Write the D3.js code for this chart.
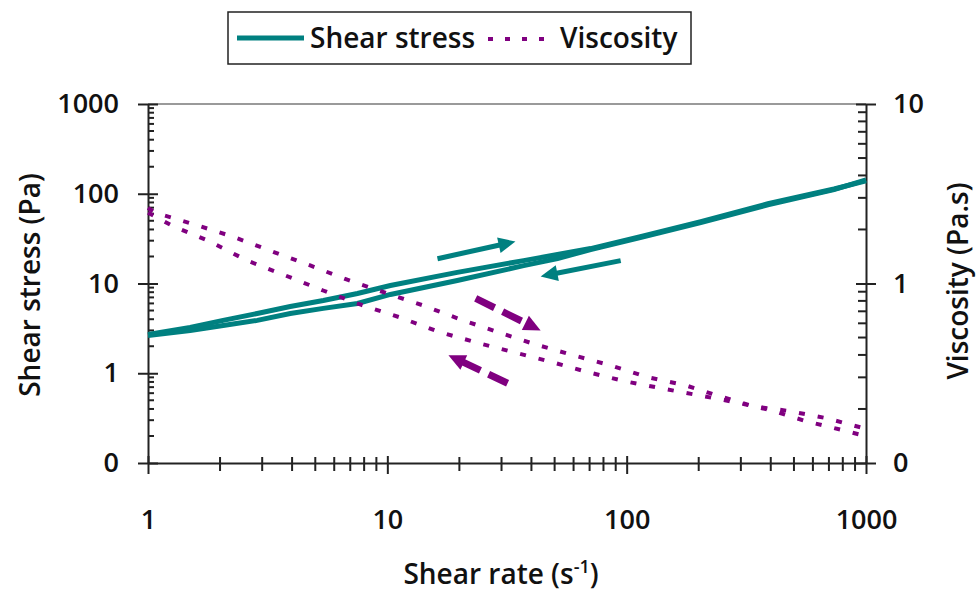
<!DOCTYPE html>
<html>
<head>
<meta charset="utf-8">
<script src="https://cdn.jsdelivr.net/npm/d3@7"></script>
<style>
  body { margin: 0; background: #fff; }
  svg { font-family: "Open Sans", sans-serif; font-weight: 600; }
  .axis text { fill: #111; font-size: 27px; font-family: "Open Sans", sans-serif; font-weight: 600; }
  .axis path, .axis line { stroke: #222; stroke-width: 2; }
</style>
</head>
<body>
<svg width="977" height="594"></svg>
<script>
// shear stress, up and down sweeps (Pa)
let stressRate = [1, 1.5, 2.06, 2.86, 3.93, 5.4, 7.5, 10.3, 19.6, 37.1, 51.4, 70.7, 114, 204, 389, 735, 1000];
let stressUp = [2.71, 3.24, 3.88, 4.64, 5.55, 6.47, 7.74, 9.5, 13.3, 18.0, 21.0, 24.5, 33.3, 48.9, 77.4, 113, 139];
let stressDown = [2.64, 3.0, 3.41, 3.88, 4.64, 5.28, 5.99, 7.55, 10.8, 15.8, 18.9, 23.9, 32.4, 47.6, 75.4, 111, 143];

// viscosity, up and down sweeps (Pa.s)
let viscRateUp = [1, 1.07, 1.57, 2.27, 3.3, 4.76, 6.8, 10.0, 14.1, 20.2, 29.1, 41.5, 60.0, 85.6, 122, 176, 236, 338, 475, 680, 1000];
let viscUp = [2.64, 2.48, 2.13, 1.82, 1.51, 1.26, 1.05, 0.88, 0.755, 0.631, 0.535, 0.458, 0.398, 0.35, 0.301, 0.271, 0.239, 0.207, 0.195, 0.178, 0.155];
let viscRateDown = [1, 1.26, 1.82, 2.6, 3.74, 5.39, 7.7, 11.3, 16.2, 23.4, 33.7, 49.0, 69.3, 97.4, 139, 198, 284, 401, 561, 820, 1000];
let viscDown = [2.48, 2.1, 1.71, 1.34, 1.11, 0.914, 0.764, 0.647, 0.541, 0.47, 0.414, 0.364, 0.32, 0.286, 0.261, 0.239, 0.218, 0.197, 0.171, 0.151, 0.141];

// tick values and labels
let xTicks = [1, 10, 100, 1000];
let xLabels = ["1", "10", "100", "1000"];
let leftTicks = [0.1, 1, 10, 100, 1000];
let leftLabels = ["0", "1", "10", "100", "1000"];
let rightTicks = [0.1, 1, 10];
let rightLabels = ["0", "1", "10"];

// direction arrows, in shear rate / shear stress units
let arrows = [
    { from: [16.2, 18.9], to: [34.3, 29.3], color: "#008080", dashed: false },
    { from: [94.4, 18.0], to: [43.7, 12.0], color: "#008080", dashed: false },
    { from: [23.4, 6.81], to: [43.7, 3.0], color: "#800080", dashed: true },
    { from: [31.8, 0.774], to: [18.0, 1.585], color: "#800080", dashed: true }
];

let teal = "#008080", purple = "#800080";
let svg = d3.select("svg");
let margin = { top: 104, right: 111, bottom: 131, left: 148 },
    width = +svg.attr("width") - margin.left - margin.right,
    height = +svg.attr("height") - margin.top - margin.bottom;

let x = d3.scaleLog().domain([1, 1000]).range([margin.left, margin.left + width]);
let yL = d3.scaleLog().domain([0.1, 1000]).range([margin.top + height, margin.top]);
let yR = d3.scaleLog().domain([0.1, 10]).range([margin.top + height, margin.top]);

let isPow10 = d => Math.abs(Math.log10(d) - Math.round(Math.log10(d))) < 1e-9;

// top border of plot area
svg.append("line")
    .attr("x1", margin.left).attr("x2", margin.left + width)
    .attr("y1", margin.top).attr("y2", margin.top)
    .attr("stroke", "#9a9a9a").attr("stroke-width", 2);

// left axis
let gL = svg.append("g").classed("axis", true)
    .attr("transform", "translate(" + margin.left + ",0)")
    .call(d3.axisLeft(yL).tickValues(leftTicks).tickFormat((d, i) => leftLabels[i])
        .tickSize(10).tickSizeOuter(0).tickPadding(19));
gL.selectAll(".tick line").attr("x1", 10);
gL.selectAll(".minor").data(yL.ticks().filter(d => !isPow10(d))).enter()
    .append("line").classed("minor", true)
    .attr("x1", 0).attr("x2", 6).attr("y1", d => yL(d)).attr("y2", d => yL(d));

// right axis
let gR = svg.append("g").classed("axis", true)
    .attr("transform", "translate(" + (margin.left + width) + ",0)")
    .call(d3.axisRight(yR).tickValues(rightTicks).tickFormat((d, i) => rightLabels[i])
        .tickSize(10).tickSizeOuter(0).tickPadding(17));
gR.selectAll(".tick line").attr("x1", -10);
gR.selectAll(".minor").data(yR.ticks().filter(d => !isPow10(d))).enter()
    .append("line").classed("minor", true)
    .attr("x1", -8).attr("x2", 0).attr("y1", d => yR(d)).attr("y2", d => yR(d));

// bottom axis
let gX = svg.append("g").classed("axis", true)
    .attr("transform", "translate(0," + (margin.top + height) + ")")
    .call(d3.axisBottom(x).tickValues(xTicks).tickFormat((d, i) => xLabels[i])
        .tickSize(11).tickSizeOuter(0).tickPadding(36));
gX.selectAll(".tick line").attr("y1", -7);
gX.selectAll(".minor").data(x.ticks().filter(d => !isPow10(d))).enter()
    .append("line").classed("minor", true)
    .attr("y1", -6).attr("y2", 8).attr("x1", d => x(d)).attr("x2", d => x(d));

// series
let lineL = d3.line().x(d => x(d[0])).y(d => yL(d[1]));
let lineR = d3.line().x(d => x(d[0])).y(d => yR(d[1]));

let plot = svg.append("g");
[stressUp, stressDown].forEach(vals => {
    plot.append("path")
        .datum(stressRate.map((r, i) => [r, vals[i]]))
        .attr("d", lineL)
        .attr("fill", "none").attr("stroke", teal).attr("stroke-width", 5);
});
[[viscRateUp, viscUp], [viscRateDown, viscDown]].forEach(s => {
    plot.append("path")
        .datum(s[0].map((r, i) => [r, s[1][i]]))
        .attr("d", lineR)
        .attr("fill", "none").attr("stroke", purple).attr("stroke-width", 4)
        .attr("stroke-dasharray", "6,13");
});

// arrows
arrows.forEach(a => {
    let p0 = [x(a.from[0]), yL(a.from[1])], p1 = [x(a.to[0]), yL(a.to[1])];
    let dx = p1[0] - p0[0], dy = p1[1] - p0[1], len = Math.hypot(dx, dy);
    let ux = dx / len, uy = dy / len, headL = 17, headW = 8;
    let bx = p1[0] - ux * headL, by = p1[1] - uy * headL;
    plot.append("line")
        .attr("x1", p0[0]).attr("y1", p0[1]).attr("x2", bx + ux * 2).attr("y2", by + uy * 2)
        .attr("stroke", a.color).attr("stroke-width", a.dashed ? 7 : 5)
        .attr("stroke-dasharray", a.dashed ? "21,9" : null);
    plot.append("path")
        .attr("d", "M" + p1[0] + "," + p1[1] +
            "L" + (bx - uy * headW) + "," + (by + ux * headW) +
            "L" + (bx + uy * headW) + "," + (by - ux * headW) + "Z")
        .attr("fill", a.color);
});

// axis titles
let xt = svg.append("text")
    .attr("x", 501).attr("y", 584)
    .attr("text-anchor", "middle")
    .style("font-size", "28px").attr("fill", "#111");
xt.append("tspan").text("Shear rate (s");
xt.append("tspan").text("-1").attr("dy", -11).style("font-size", "18px");
xt.append("tspan").text(")").attr("dy", 11);

svg.append("text")
    .attr("transform", "translate(40,285) rotate(-90)")
    .attr("text-anchor", "middle")
    .style("font-size", "28px").attr("fill", "#111")
    .text("Shear stress (Pa)");

svg.append("text")
    .attr("transform", "translate(968,281) rotate(-90)")
    .attr("text-anchor", "middle")
    .style("font-size", "28px").attr("fill", "#111")
    .text("Viscosity (Pa.s)");

// legend
let lg = svg.append("g");
lg.append("rect")
    .attr("x", 228).attr("y", 12).attr("width", 463).attr("height", 52)
    .attr("fill", "#fff").attr("stroke", "#222").attr("stroke-width", 1.5);
lg.append("line").attr("x1", 237).attr("x2", 304).attr("y1", 38).attr("y2", 38)
    .attr("stroke", teal).attr("stroke-width", 5);
lg.append("text").attr("x", 310).attr("y", 48).style("font-size", "28px").attr("fill", "#111")
    .text("Shear stress");
lg.append("line").attr("x1", 488).attr("x2", 553).attr("y1", 39).attr("y2", 39)
    .attr("stroke", purple).attr("stroke-width", 4).attr("stroke-dasharray", "5,12");
lg.append("text").attr("x", 560).attr("y", 48).style("font-size", "28px").attr("fill", "#111")
    .text("Viscosity");
</script>
</body>
</html>
